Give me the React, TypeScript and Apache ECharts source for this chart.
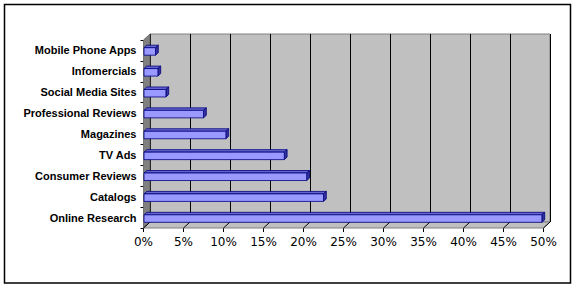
import React, { useEffect, useRef } from "react";
import * as echarts from "echarts";

const categories = [
  "Online Research",
  "Catalogs",
  "Consumer Reviews",
  "TV Ads",
  "Magazines",
  "Professional Reviews",
  "Social Media Sites",
  "Infomercials",
  "Mobile Phone Apps",
];
const values = [49.8, 22.5, 20.4, 17.6, 10.3, 7.5, 2.8, 1.8, 1.5];
const valueTicks = [0, 5, 10, 15, 20, 25, 30, 35, 40, 45, 50];

const DX = 6.5;
const DY = -6;
const BDX = 2.8;
const BDY = -2.5;

export default function App() {
  const ref = useRef<HTMLDivElement>(null);
  useEffect(() => {
    if (!ref.current) return;
    const chart = echarts.init(ref.current, null, { renderer: "svg" });
    const option: any = {
      animation: false,
      backgroundColor: "#ffffff",
      grid: [
        { left: 143.5, top: 40, width: 400, height: 188, containLabel: false },
        {
          left: 143.5 + DX,
          top: 40 + DY,
          width: 400,
          height: 188,
          show: true,
          backgroundColor: "#C0C0C0",
          borderColor: "#808080",
          borderWidth: 1,
          z: 0,
        },
      ],
      xAxis: [
        {
          type: "value",
          gridIndex: 0,
          min: 0,
          max: 50,
          interval: 5,
          axisLine: { show: false },
          axisTick: { show: true, length: 4, lineStyle: { color: "#000", width: 1 } },
          splitLine: { show: false },
          axisLabel: {
            formatter: "{value}%",
            fontFamily: "DejaVu Sans",
            fontSize: 12,
            color: "#000",
            margin: 8,
          },
        },
        {
          type: "value",
          gridIndex: 1,
          min: 0,
          max: 50,
          interval: 5,
          axisLine: { show: false },
          axisTick: { show: false },
          axisLabel: { show: false },
          splitLine: { show: true, lineStyle: { color: "#000", width: 1 } },
        },
      ],
      yAxis: [
        {
          type: "category",
          gridIndex: 0,
          data: categories,
          axisLine: { show: false },
          axisTick: { show: true, length: 3, lineStyle: { color: "#000", width: 1 } },
          axisLabel: {
            fontFamily: "Liberation Sans",
            fontWeight: "bold",
            fontSize: 11,
            color: "#000",
            margin: 7,
          },
        },
        {
          type: "category",
          gridIndex: 1,
          data: categories,
          show: false,
        },
      ],
      series: [
        {
          type: "custom",
          xAxisIndex: 0,
          yAxisIndex: 0,
          z: 1,
          silent: true,
          data: [[0, 0]],
          renderItem: (params: any, api: any) => {
            const cs = params.coordSys;
            const left = cs.x;
            const top = cs.y;
            const right = cs.x + cs.width;
            const bottom = cs.y + cs.height;
            const children: any[] = [];
            children.push({
              type: "polygon",
              shape: {
                points: [
                  [left, bottom],
                  [left + DX, bottom + DY],
                  [right + DX, bottom + DY],
                  [right, bottom],
                ],
              },
              style: { fill: "#C0C0C0", stroke: "#808080", lineWidth: 1 },
            });
            children.push({
              type: "polygon",
              shape: {
                points: [
                  [left, top],
                  [left + DX, top + DY],
                  [left + DX, bottom + DY],
                  [left, bottom],
                ],
              },
              style: { fill: "#808080", stroke: "#606060", lineWidth: 0.8 },
            });
            valueTicks.forEach((t) => {
              const x = api.coord([t, 0])[0];
              children.push({
                type: "line",
                shape: { x1: x, y1: bottom, x2: x + DX, y2: bottom + DY },
                style: { stroke: "#000", lineWidth: 1 },
              });
            });
            return { type: "group", children };
          },
        },
        {
          type: "custom",
          xAxisIndex: 0,
          yAxisIndex: 0,
          z: 3,
          data: values.map((v, i) => [v, i]),
          encode: { x: 0, y: 1 },
          renderItem: (params: any, api: any) => {
            const v = api.value(0);
            const c = api.value(1);
            const p0 = api.coord([0, c]);
            const p1 = api.coord([v, c]);
            const h = 7.5;
            const x0 = p0[0] + 0.5;
            const x1 = p1[0];
            const yTop = p0[1] - h / 2 + 1;
            const yBot = yTop + h;
            const stroke = { stroke: "#000080", lineWidth: 0.8 };
            return {
              type: "group",
              children: [
                {
                  type: "polygon",
                  shape: {
                    points: [
                      [x0, yTop],
                      [x0 + BDX, yTop + BDY],
                      [x1 + BDX, yTop + BDY],
                      [x1, yTop],
                    ],
                  },
                  style: { fill: "#6666CC", ...stroke },
                },
                {
                  type: "polygon",
                  shape: {
                    points: [
                      [x1, yTop],
                      [x1 + BDX, yTop + BDY],
                      [x1 + BDX, yBot + BDY],
                      [x1, yBot],
                    ],
                  },
                  style: { fill: "#333399", ...stroke },
                },
                {
                  type: "rect",
                  shape: { x: x0, y: yTop, width: x1 - x0, height: h },
                  style: { fill: "#9999FF", ...stroke },
                },
              ],
            };
          },
        },
      ],
      graphic: [
        {
          type: "rect",
          shape: { x: 4.5, y: 4.5, width: 566, height: 278.5 },
          style: { fill: "none", stroke: "#000", lineWidth: 1.5 },
          z: 10,
        },
      ],
    };
    chart.setOption(option);
    return () => chart.dispose();
  }, []);
  return (
    <div
      ref={ref}
      style={{ position: "fixed", left: 0, top: 0, width: 576, height: 289 }}
    />
  );
}
